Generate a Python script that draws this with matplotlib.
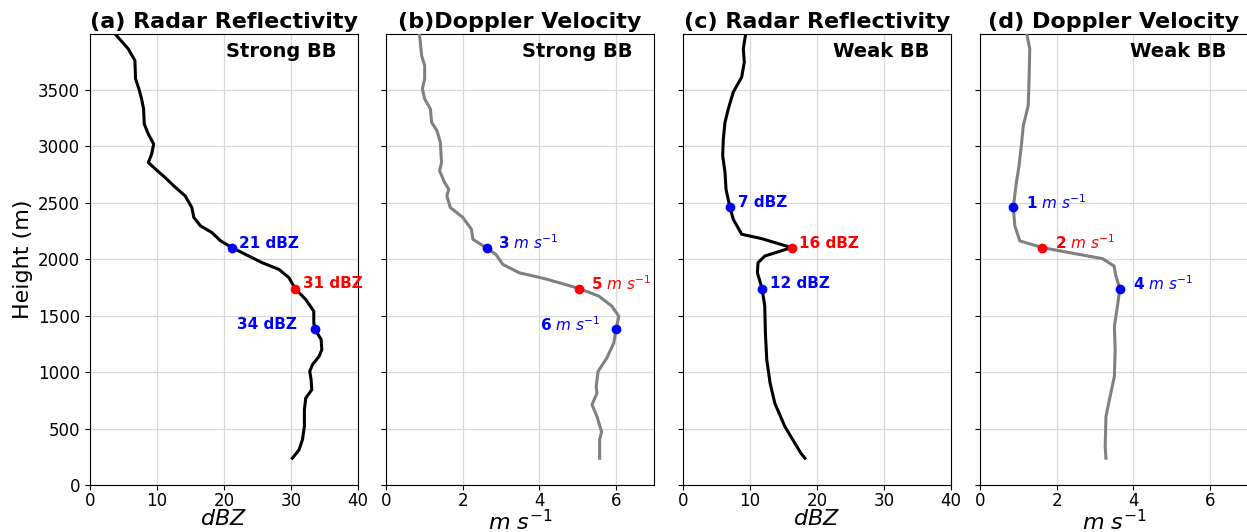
import matplotlib
matplotlib.use("Agg")
import matplotlib.pyplot as plt
import numpy as np

# ---------------- data ----------------
# (a) Strong BB reflectivity (dBZ) vs height (m)
h_a = [4012, 3864, 3760, 3598, 3509, 3420, 3331, 3198, 3109, 3020, 2931, 2857, 2813,
       2724, 2650, 2561, 2458, 2369, 2295, 2236, 2162, 2103, 2043, 1969, 1910, 1836,
       1741, 1643, 1540, 1436, 1377, 1288, 1199, 1140, 1066, 1007, 933, 844, 770, 666,
       518, 400, 311, 237]
z_a = [3.5, 5.7, 6.7, 6.8, 7.3, 7.7, 8.0, 8.1, 8.7, 9.5, 9.2, 8.7, 9.5,
       11.2, 12.5, 14.2, 15.2, 15.5, 16.5, 18.2, 19.5, 21.2, 23.2, 25.7, 28.2, 29.7,
       30.6, 32.2, 33.4, 33.4, 33.6, 34.5, 34.6, 34.2, 33.2, 32.8, 33.0, 33.1, 32.2, 32.0,
       32.0, 31.7, 31.2, 30.2]

# (b) Strong BB Doppler velocity (m/s)
h_b = [4012, 3804, 3715, 3598, 3509, 3420, 3331, 3213, 3139, 3035, 2857, 2783, 2680,
       2620, 2561, 2458, 2369, 2265, 2176, 2103, 2043, 1954, 1880, 1826, 1741, 1673,
       1584, 1495, 1377, 1259, 1126, 1007, 873, 814, 711, 607, 473, 400, 237]
v_b = [0.87, 0.93, 1.01, 1.01, 0.95, 1.01, 1.16, 1.19, 1.33, 1.42, 1.45, 1.40, 1.53,
       1.64, 1.59, 1.68, 2.01, 2.23, 2.27, 2.61, 2.87, 3.05, 3.48, 4.17, 5.04, 5.56,
       5.90, 6.08, 6.01, 5.95, 5.77, 5.54, 5.49, 5.51, 5.38, 5.51, 5.63, 5.58, 5.58]

# (c) Weak BB reflectivity (dBZ)
h_c = [4012, 3864, 3746, 3613, 3480, 3331, 3213, 3065, 2917, 2769, 2620, 2458, 2354,
       2221, 2183, 2103, 2028, 1969, 1880, 1741, 1584, 1347, 1110, 903, 725, 518, 370,
       281, 237]
z_c = [9.4, 9.0, 9.15, 8.76, 7.5, 6.76, 6.27, 6.02, 5.92, 6.27, 6.42, 7.01, 7.5,
       8.76, 11.7, 16.2, 12.2, 11.2, 11.1, 11.8, 12.2, 12.3, 12.5, 13.0, 13.7, 15.2, 16.7,
       17.6, 18.2]

# (d) Weak BB Doppler velocity (m/s)
h_d = [4012, 3864, 3568, 3361, 3183, 3005, 2828, 2680, 2458, 2295, 2162, 2103, 2058,
       2005, 1940, 1851, 1741, 1584, 1406, 1199, 962, 755, 607, 340, 237]
v_d = [1.21, 1.30, 1.28, 1.26, 1.13, 1.08, 1.02, 0.95, 0.87, 0.91, 1.04, 1.63, 2.34,
       3.2, 3.5, 3.55, 3.65, 3.59, 3.51, 3.53, 3.51, 3.38, 3.29, 3.27, 3.29]

# highlighted points: (value, height, label, colour)
pts_a = [(21.2, 2100, "21 dBZ", "blue"), (30.6, 1740, "31 dBZ", "red"), (33.6, 1380, "34 dBZ", "blue")]
pts_b = [(2.64, 2100, "3", "blue"), (5.04, 1740, "5", "red"), (6.01, 1380, "6", "blue")]
pts_c = [(7.0, 2460, "7 dBZ", "blue"), (16.2, 2100, "16 dBZ", "red"), (11.8, 1740, "12 dBZ", "blue")]
pts_d = [(0.87, 2460, "1", "blue"), (1.63, 2100, "2", "red"), (3.66, 1740, "4", "blue")]

titles = ["(a) Radar Reflectivity", "(b)Doppler Velocity", "(c) Radar Reflectivity", "(d) Doppler Velocity"]
tags = ["Strong BB", "Strong BB", "Weak BB", "Weak BB"]
yticks = [0, 500, 1000, 1500, 2000, 2500, 3000, 3500]
dbz_ticks = [0, 10, 20, 30, 40]
vel_ticks = [0, 2, 4, 6]

# ---------------- figure ----------------
W, H = 1247, 532
fig = plt.figure(figsize=(W / 100, H / 100), dpi=100)

lefts = [90, 386, 683, 980]
ax_w = 268
bottom_px, top_px = 485, 34

profiles = [(z_a, h_a, "black", pts_a, "dbz"),
            (v_b, h_b, "grey", pts_b, "vel"),
            (z_c, h_c, "black", pts_c, "dbz"),
            (v_d, h_d, "grey", pts_d, "vel")]

# label offsets (points): per panel per point
offsets = [
    [(5, 3.5, "left"), (6, 3.5, "left"), (-13, 3.5, "right")],
    [(8, 3.5, "left"), (8.5, 3.5, "left"), (-11, 3.5, "right")],
    [(5.5, 3.5, "left"), (5.5, 3.5, "left"), (5.5, 3.5, "left")],
    [(9, 3.5, "left"), (9, 3.5, "left"), (9, 3.5, "left")],
]

for i, (xv, hv, col, pts, kind) in enumerate(profiles):
    ax = fig.add_axes([lefts[i] / W, (H - bottom_px) / H, ax_w / W, (bottom_px - top_px) / H])
    ax.plot(xv, hv, color=col, lw=2.2, zorder=3)
    for j, (px, py, lab, c) in enumerate(pts):
        ax.plot([px], [py], "o", color=c, ms=6, zorder=4)
        dx, dy, ha = offsets[i][j]
        if kind == "dbz":
            txt = lab
            fw = "bold"
        else:
            txt = r"$\mathbf{" + lab + r"}$ $m\ s^{-1}$"
            fw = "normal"
        ax.annotate(txt, (px, py), xytext=(dx, dy), textcoords="offset points",
                    ha=ha, va="center", color=c, fontsize=11, fontweight=fw)
    ax.set_ylim(0, 3995)
    ax.set_yticks(yticks)
    if kind == "dbz":
        ax.set_xlim(0, 40)
        ax.set_xticks(dbz_ticks)
        ax.set_xlabel(r"$dBZ$", fontsize=16, labelpad=-1)
    else:
        ax.set_xlim(0, 7)
        ax.set_xticks(vel_ticks)
        ax.set_xlabel(r"$m\ s^{-1}$", fontsize=16, labelpad=-1)
    ax.grid(True, color="#d9d9d9", lw=0.9)
    ax.set_axisbelow(True)
    ax.tick_params(labelsize=12)
    ax.tick_params(axis="x", pad=1.5)
    if i == 0:
        ax.set_ylabel("Height (m)", fontsize=16)
    else:
        ax.tick_params(labelleft=False)
    ax.set_title(titles[i], fontsize=16, fontweight="bold", pad=4)
    ax.text(0.918, 0.982, tags[i], transform=ax.transAxes, ha="right", va="top",
            fontsize=14, fontweight="bold")

fig.savefig("out.png", dpi=100)
